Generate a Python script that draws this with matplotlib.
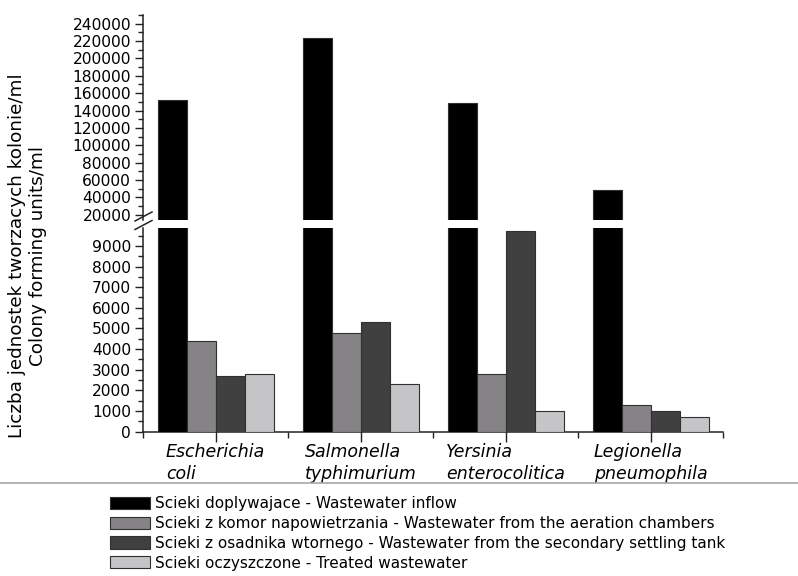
import matplotlib
matplotlib.use("Agg")
import matplotlib.pyplot as plt
from matplotlib.lines import Line2D
from matplotlib.ticker import FixedLocator
import numpy as np

plt.rcParams['font.family'] = ['DejaVu Sans']

categories = ["Escherichia\ncoli", "Salmonella\ntyphimurium",
              "Yersinia\nenterocolitica", "Legionella\npneumophila"]
series_labels = [
    "Scieki doplywajace - Wastewater inflow",
    "Scieki z komor napowietrzania - Wastewater from the aeration chambers",
    "Scieki z osadnika wtornego - Wastewater from the secondary settling tank",
    "Scieki oczyszczone - Treated wastewater",
]
inflow = [152000, 224000, 149000, 49000]
aeration = [4400, 4800, 2800, 1300]
secondary = [2700, 5300, 9700, 1000]
treated = [2800, 2300, 1000, 700]
series = [inflow, aeration, secondary, treated]
colors = ["#000000", "#858385", "#414041", "#c5c4c6"]
ylabel = "Liczba jednostek tworzacych kolonie/ml\nColony forming units/ml"

W, H = 798, 576
fig = plt.figure(figsize=(W / 100, H / 100), dpi=100)

def fx(px):
    return px / W

def fy(py):
    return 1 - py / H

left, right = 143, 723
ax_lo = fig.add_axes([fx(left), fy(431.7), fx(right - left), (431.7 - 228.3) / H])
ax_hi = fig.add_axes([fx(left), fy(220), fx(right - left), (220 - 15) / H])

x = np.arange(len(categories))
bw = 0.2
handles = []
for ax in (ax_lo, ax_hi):
    for j, (vals, c) in enumerate(zip(series, colors)):
        b = ax.bar(x + (j - 1.5) * bw, vals, width=bw, color=c,
                   edgecolor="#303030", linewidth=0.8, zorder=3)
        if ax is ax_lo:
            handles.append(b)

ax_lo.set_ylim(0, 9850)
ax_hi.set_ylim(14000, 250000)
for ax in (ax_lo, ax_hi):
    ax.set_xlim(-0.5, 3.5)
    for s in ("top", "right"):
        ax.spines[s].set_visible(False)
    ax.spines["left"].set_linewidth(1.1)
    ax.spines["left"].set_color("#222222")
    ax.tick_params(axis="y", which="major", direction="out", length=6, width=1,
                   labelsize=11.2, pad=2.5, color="#222222")
    ax.tick_params(axis="y", which="minor", direction="out", length=3.5, width=1,
                   color="#222222")

ax_hi.spines["bottom"].set_visible(False)
ax_hi.tick_params(axis="x", which="both", bottom=False, labelbottom=False)
ax_hi.yaxis.set_major_locator(FixedLocator(np.arange(20000, 240001, 20000)))
ax_hi.yaxis.set_minor_locator(FixedLocator(np.arange(20000, 250001, 10000)))

ax_lo.yaxis.set_major_locator(FixedLocator(np.arange(0, 9001, 1000)))
ax_lo.yaxis.set_minor_locator(FixedLocator(np.arange(500, 9501, 1000)))
ax_lo.spines["bottom"].set_linewidth(1.1)
ax_lo.spines["bottom"].set_color("#222222")
ax_lo.set_xticks(x)
ax_lo.set_xticklabels(categories, fontsize=12.5, style="italic",
                      multialignment="left", linespacing=1.3)
ax_lo.xaxis.set_minor_locator(FixedLocator(np.arange(-0.5, 3.6, 1.0)))
ax_lo.tick_params(axis="x", which="major", direction="inout", length=14, width=1,
                  pad=1, color="#222222")
ax_lo.tick_params(axis="x", which="minor", direction="out", length=4, width=1,
                  color="#222222")

# y label
fig.text(fx(27.5), fy(256), ylabel, rotation=90, ha="center", va="center",
         multialignment="center", fontsize=13.2, linespacing=1.15)

# break marks
for y0 in (216.5, 225):
    fig.add_artist(Line2D([fx(135), fx(152)], [fy(y0 + 4.5), fy(y0 - 4.5)],
                          color="#222222", linewidth=1.1))

# legend frame top line
fig.add_artist(Line2D([0, 1], [fy(482.7), fy(482.7)], color="#a8a8a8", linewidth=1.2))

leg = fig.legend(handles, series_labels, loc="upper left",
                 bbox_to_anchor=(fx(110), fy(496)), frameon=False,
                 fontsize=10.95, handlelength=2.6, handleheight=0.85,
                 handletextpad=0.35, labelspacing=0.32, borderpad=0,
                 borderaxespad=0)

fig.savefig("out.png", dpi=100)
